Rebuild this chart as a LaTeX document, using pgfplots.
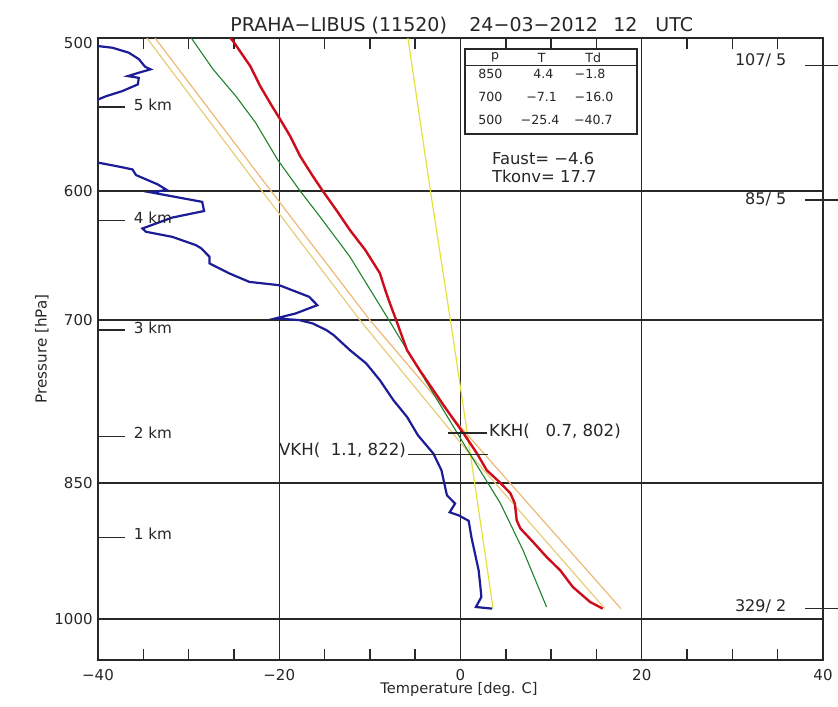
\documentclass[border=0pt]{standalone}
\usepackage{fontspec}
\setmainfont{DejaVu Sans}
\usepackage{pgfplots}
\pgfplotsset{compat=1.18}

\definecolor{tcol}{RGB}{205,12,28}
\definecolor{tdcol}{RGB}{28,28,150}
\definecolor{grn}{RGB}{30,130,45}
\definecolor{orA}{RGB}{230,205,120}
\definecolor{orB}{RGB}{238,184,118}
\definecolor{yel}{RGB}{226,226,60}
\definecolor{axgray}{RGB}{40,40,40}

\begin{document}
\begin{tikzpicture}
% page = 838 x 706 px, 1 px = 0.5pt, axis box from (98,38) to (823,660)
\useasboundingbox (-49pt,-23pt) rectangle (370pt,330pt);
\begin{axis}[
  at={(0,0)}, anchor=south west,
  scale only axis, width=362.5pt, height=311pt,
  xmin=-40, xmax=40, ymin=500, ymax=1050,
  ymode=log, y dir=reverse,
  clip mode=individual,
  xtick={-40,-20,0,20,40},
  xticklabels={−40,−20,0,20,40},
  minor xtick={-35,-30,-25,-15,-10,-5,5,10,15,25,30,35},
  ytick={500,600,700,850,1000},
  yticklabels={{\raisebox{-2.5pt}[\height][\depth]{500}},600,700,850,1000},
  ytick style={draw=none},
  xtick style={line width=0.75pt, color=axgray},
  major tick length=0pt,
  minor tick length=5.5pt,
  tick align=inside,
  xtick pos=both,
  grid=major,
  major grid style={line width=0.7pt, color=axgray},
  axis line style={line width=0.75pt, color=axgray},
  tick label style={font=\fontsize{7.5}{9}\selectfont, text=black!85},
  xticklabel style={anchor=base, inner sep=0pt, yshift=-10pt},
  yticklabel style={anchor=east, inner sep=0pt, xshift=-2.5pt},
]
% dry adiabats
\addplot[orA, line width=0.6pt] coordinates {(-34.6,500) (-22.6,594.2) (-11.1,700) (1.1,822) (15.9,987.1)};
\addplot[orB, line width=0.6pt] coordinates {(-33.7,500) (-21.6,594.2) (-10.0,700) (0.7,802) (17.7,987.5)};
% mixing ratio line
\addplot[yel, line width=0.6pt] coordinates {(-5.8,500) (-3.4,596.6) (-1.0,705.7) (1.1,822) (3.6,987.5)};
% moist adiabat
\addplot[grn, line width=0.55pt] coordinates {(-29.7,500) (-27.3,519.0) (-24.8,535.8) (-22.6,553.2) (-20.2,577.9)
  (-17.7,600) (-15.5,618.8) (-12.2,649.1) (-7.9,700) (1.1,822) (4.4,870.9) (6.9,921.1) (9.5,985.6)};
% dew point
\addplot[tdcol, line width=1.1pt] coordinates {(-40.7,500) (-40.0,504.8) (-38.4,505.8) (-36.6,508.8) (-35.5,512.7)
  (-34.8,517.4) (-34.2,519.0) (-35.5,521.1) (-36.7,523.2) (-35.5,524.3) (-35.6,528.4) (-37.3,532.6)
  (-39.1,535.9) (-40.0,538.0) (-43.0,560) (-40.0,580.1) (-38.0,582.5) (-36.2,584.8) (-35.8,588.8)
  (-33.4,595.4) (-32.4,599.4) (-34.2,601.0) (-28.5,607.9) (-28.3,614.6) (-31.8,619.4) (-35.1,627.5)
  (-34.7,630.0) (-31.8,633.8) (-29.2,640.1) (-28.6,642.6) (-27.7,649.1) (-27.7,654.2) (-25.5,662.1)
  (-23.3,668.8) (-20.0,671.4) (-16.7,680.8) (-15.8,687.6) (-18.2,694.5) (-20.4,698.6) (-17.8,700)
  (-16.3,702.8) (-14.8,708.4) (-14.0,712.7) (-12.2,725.6) (-10.4,737.2) (-8.9,752.0) (-7.4,770.2)
  (-5.9,785.7) (-4.7,803.0) (-3.0,820.7) (-2.1,837.3) (-1.8,850) (-1.5,862.6) (-0.6,871.2)
  (-1.2,880.3) (-0.2,883.5) (0.9,889.3) (1.2,906.6) (1.6,924.8) (2.0,943.4) (2.2,962.4)
  (2.3,973.9) (1.7,985.6) (3.5,987.5)};
% temperature
\addplot[tcol, line width=1.2pt] coordinates {(-25.4,500) (-25.1,501.8) (-23.2,517.0) (-22.1,529.5) (-20.8,542.3)
  (-20.0,549.9) (-18.8,562.0) (-17.7,575.6) (-16.3,589.5) (-15.2,600) (-13.7,613.9) (-12.2,628.7)
  (-10.5,643.9) (-8.9,661.8) (-8.3,675.4) (-7.8,686.0) (-7.1,700) (-5.9,725.5) (-4.5,743.1)
  (-3.0,761.0) (-1.5,779.4) (0.4,802) (1.8,820.4) (2.9,837.3) (4.4,850) (5.5,860.5) (6.0,871.2)
  (6.2,888.7) (6.6,897.3) (8.0,912.0) (9.5,928.5) (11.0,943.4) (12.4,962.4) (14.3,979.7) (15.7,987.5)};
\end{axis}

% annotations, in pixel coordinates of the reference
\begin{scope}[x=0.5pt, y=-0.5pt, shift={(-49pt,330pt)}, every node/.style={inner sep=0pt, text=black!85}]
  \node[anchor=base west, font=\fontsize{9.5}{11}\selectfont] at (230,31.7) {PRAHA−LIBUS (11520)};
  \node[anchor=base west, font=\fontsize{9.5}{11}\selectfont] at (469,31.7) {24−03−2012};
  \node[anchor=base west, font=\fontsize{9.5}{11}\selectfont] at (613,31.7) {12};
  \node[anchor=base west, font=\fontsize{9.5}{11}\selectfont] at (655,31.7) {UTC};
  \node[anchor=base, font=\fontsize{7.3}{9}\selectfont] at (459,693) {Temperature [deg. C]};
  \node[anchor=base, rotate=90, font=\fontsize{7.6}{9}\selectfont] at (46.5,349) {Pressure [hPa]};
  \begin{scope}[line width=0.8pt, color=axgray, font=\fontsize{7.6}{9}\selectfont]
    % heights
    \draw (98,107.3) -- (125,107.3);  \node[anchor=west] at (133,104.5) {5 km};
    \draw (98,220.7) -- (125,220.7);  \node[anchor=west] at (133,217.5) {4 km};
    \draw (98,330) -- (125,330);      \node[anchor=west] at (133,328) {3 km};
    \draw (98,436.7) -- (125,436.7);  \node[anchor=west] at (133,433) {2 km};
    \draw (98,537.3) -- (125,537.3);  \node[anchor=west] at (133,534) {1 km};
    % right side
    \draw (805,65.7) -- (838,65.7);   \node[anchor=east, font=\fontsize{8}{9}\selectfont] at (787,60) {107/ 5};
    \draw (805,200) -- (838,200);     \node[anchor=east, font=\fontsize{8}{9}\selectfont] at (787,199) {85/ 5};
    \draw (805,608.3) -- (838,608.3); \node[anchor=east, font=\fontsize{8}{9}\selectfont] at (787,606) {329/ 2};
    % condensation levels
    \draw (448.3,433.3) -- (486.7,433.3);
    \node[anchor=west, font=\fontsize{8.3}{9}\selectfont] at (488.3,431) {KKH(\ \ \ 0.7, 802)};
    \draw (408,454.3) -- (488.3,454.3);
    \node[anchor=east, font=\fontsize{8.3}{9}\selectfont] at (406.7,450) {VKH(\ \ 1.1, 822)};
    % table
    \draw[fill=white] (465,49.3) rectangle (636.7,134);
    \draw (465,65.7) -- (636.7,65.7);
  \end{scope}
  \begin{scope}[font=\fontsize{6.3}{8}\selectfont]
    \node at (495,57.5) {p};   \node at (541.7,57.5) {T};   \node at (593.3,57.5) {Td};
    \node at (490.3,74) {850}; \node at (543.3,74) {4.4};   \node at (590,74) {−1.8};
    \node at (490.3,96.7) {700}; \node at (541.7,96.7) {−7.1}; \node at (594,96.7) {−16.0};
    \node at (490.3,120) {500}; \node at (540,120) {−25.4}; \node at (593.3,120) {−40.7};
  \end{scope}
  \node[anchor=west, font=\fontsize{8.2}{9}\selectfont] at (491.7,158.5) {Faust= −4.6};
  \node[anchor=west, font=\fontsize{8.2}{9}\selectfont] at (491.7,176) {Tkonv= 17.7};
\end{scope}
\end{tikzpicture}
\end{document}
